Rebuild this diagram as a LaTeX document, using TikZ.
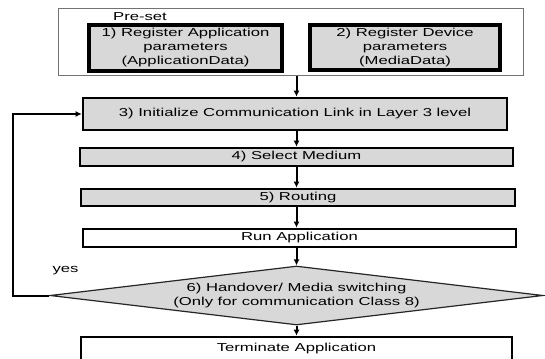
\documentclass[tikz,border=0pt]{standalone}
\usepackage{fontspec}
\setmainfont[FakeStretch=1.45]{Liberation Sans}
\usetikzlibrary{arrows.meta,positioning,shapes.geometric}

\definecolor{boxgray}{RGB}{216,216,216}

\begin{document}
\begin{tikzpicture}[
  x=1pt,
  y=-1pt,
  >={Latex[length=6pt,width=6pt]},
  step3/.style={draw, fill=boxgray, line width=2.6pt, align=center, inner sep=0pt, font=\fontsize{11.5}{14}\selectfont},
  reg/.style={step3, line width=3.2pt},
  plain/.style={step3, fill=white},
  decide/.style={draw=black!85, fill=boxgray, diamond, aspect=8.36, inner sep=0pt, line width=1.2pt, align=center, font=\fontsize{11.5}{14}\selectfont},
  link/.style={line width=2pt, ->}
]
  \useasboundingbox (0,0) rectangle (545,358);

  \node[draw=black!55, line width=1pt, minimum width=465, minimum height=67] (preset) at (290.5,42.5) {};
  \node[font=\fontsize{11.5}{14}\selectfont] (presetlbl) at (140,17) {Pre-set};

  \node[reg, minimum width=193, minimum height=46] (appdata) at (185.5,48)
    {1) Register Application\\parameters\\(ApplicationData)};
  \node[reg, minimum width=190, minimum height=45] (mediadata) at (405,47.5)
    {2) Register Device\\parameters\\(MediaData)};

  \node[step3, minimum width=424, minimum height=32] (initlink) at (295,114)
    {3) Initialize Communication Link in Layer 3 level};
  \node[step3, minimum width=433, minimum height=18] (medium) at (296.5,157) {4) Select Medium};
  \node[step3, minimum width=434, minimum height=17] (routing) at (298,197.5) {5) Routing};
  \node[plain, minimum width=433, minimum height=18] (runapp) at (299.5,238) {Run Application};

  \node[decide, minimum width=493, minimum height=59] (handover) at (296.5,295.5)
    {6) Handover/ Media switching\\(Only for communication Class 8)};
  \node[font=\fontsize{11.5}{14}\selectfont] (yeslbl) at (65.5,271) {yes};

  \node[plain, minimum width=431, minimum height=23] (termapp) at (296.5,348.5) {Terminate Application};

  \coordinate (loopb) at (13,295.5);

  \draw[link] (preset.south -| handover) -- (initlink.north -| handover);
  \draw[link] (initlink.south -| handover) -- (medium.north -| handover);
  \draw[link] (medium.south -| handover) -- (routing.north -| handover);
  \draw[link] (routing.south -| handover) -- (runapp.north -| handover);
  \draw[link] (runapp.south -| handover) -- (handover.north);
  \draw[link] (handover.south) -- (termapp.north -| handover);
  \draw[link] (handover.west) -- (loopb) |- (initlink.west);
\end{tikzpicture}
\end{document}
